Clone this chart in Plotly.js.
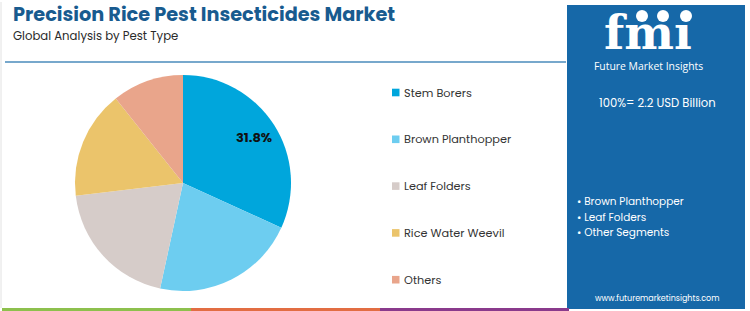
<!DOCTYPE html>
<html>
<head>
<meta charset="utf-8">
<script src="https://cdn.plot.ly/plotly-3.0.1.min.js"></script>
<style>html,body{margin:0;padding:0;background:#fff;}#chart{width:750px;height:311px;}</style>
</head>
<body>
<div id="chart"></div>
<script>
var categories = ["Stem Borers", "Brown Planthopper", "Leaf Folders", "Rice Water Weevil", "Others"];
var shares = [31.8, 21.6, 19.7, 16.2, 10.7];
var colors = ["#00A6DC", "#6DCDF0", "#D6CCC9", "#EBC46B", "#E9A58B"];
var shownLabels = ["31.8%", "", "", "", ""];
var titleText = "Precision Rice Pest Insecticides Market";
var subtitleText = "Global Analysis by Pest Type";
var totalText = "100%= 2.2 USD Billion";
var keySegments = ["Brown Planthopper", "Leaf Folders", "Other Segments"];
var brandText = "Future Market Insights";
var urlText = "www.futuremarketinsights.com";

var W = 750, H = 311;
function px(x){ return x / W; }
function py(y){ return 1 - y / H; }

var panel = "#1668A8";
var FONT = "Poppins, 'Open Sans', sans-serif";

// pie geometry (layout)
var PCX = 183, PCY = 183, PR = 108;

var pie = {
  type: "pie",
  labels: categories,
  values: shares,
  marker: {colors: colors, line: {width: 0}},
  sort: false,
  direction: "clockwise",
  rotation: 0,
  textinfo: "none",
  hoverinfo: "label+percent",
  domain: {x: [px(PCX - PR), px(PCX + PR)], y: [py(PCY + PR), py(PCY - PR)]},
  showlegend: false
};

var shapes = [];
var annotations = [];

// slice labels placed at the mid-angle of each slice
var total = shares.reduce(function(a, b){ return a + b; }, 0);
var cum = 0;
for (var j = 0; j < shares.length; j++) {
  var mid = (cum + shares[j] / 2) / total * 2 * Math.PI;
  cum += shares[j];
  if (!shownLabels[j]) continue;
  var lx = PCX + 0.78 * PR * Math.sin(mid);
  var ly2 = PCY - 0.78 * PR * Math.cos(mid);
  annotations.push({text: "<b>" + shownLabels[j] + "</b>", xref: "paper", yref: "paper", x: px(lx), y: py(ly2), xanchor: "center", yanchor: "middle", showarrow: false, font: {family: FONT, size: 13, color: "#111"}});
}

// header rule
shapes.push({type: "line", xref: "paper", yref: "paper", x0: px(5), x1: px(566), y0: py(62), y1: py(62), line: {color: "#4A8BBB", width: 1.5}});
// left faint border
shapes.push({type: "line", xref: "paper", yref: "paper", x0: px(1), x1: px(1), y0: py(2), y1: py(308), line: {color: "#E2E2E2", width: 1}});
// right panel
shapes.push({type: "rect", xref: "paper", yref: "paper", x0: px(567), x1: px(745), y0: py(309), y1: py(5), fillcolor: panel, line: {width: 0}, layer: "below"});
// bottom stripes
var stripeColors = ["#8DC04D", "#E26D43", "#8A3A8C"];
for (var s = 0; s < 3; s++) {
  shapes.push({type: "rect", xref: "paper", yref: "paper", x0: px(2 + s * 189), x1: px(2 + (s + 1) * 189), y0: 0, y1: py(308), fillcolor: stripeColors[s], line: {width: 0}});
}

// title
annotations.push({text: "<b>" + titleText + "</b>", xref: "paper", yref: "paper", x: px(11), y: py(15), xanchor: "left", yanchor: "middle", showarrow: false, font: {family: FONT, size: 19.3, color: "#185B8F"}});
annotations.push({text: subtitleText, xref: "paper", yref: "paper", x: px(11), y: py(36), xanchor: "left", yanchor: "middle", showarrow: false, font: {family: FONT, size: 11.7, color: "#2A2A2A"}});

// custom legend
for (var i = 0; i < categories.length; i++) {
  var cy = 92.5 + i * 46.8;
  shapes.push({type: "rect", xref: "paper", yref: "paper", x0: px(392), x1: px(399.5), y0: py(cy + 3.8), y1: py(cy - 3.8), fillcolor: colors[i], line: {width: 0}});
  annotations.push({text: categories[i], xref: "paper", yref: "paper", x: px(401.5), y: py(cy), xanchor: "left", yanchor: "middle", showarrow: false, font: {family: FONT, size: 11.3, color: "#333"}});
}

// logo
annotations.push({text: "<b>fmı</b>", xref: "paper", yref: "paper", x: px(648), y: py(32.5), xanchor: "center", yanchor: "middle", showarrow: false, font: {family: "'DejaVu Serif', serif", size: 47, color: "#FFFFFF"}});
for (var k = 0; k < 9; k++) {
  var ly = 21 + k * 4;
  shapes.push({type: "line", xref: "paper", yref: "paper", x0: px(590), x1: px(708), y0: py(ly), y1: py(ly), line: {color: panel, width: 1}});
}
var dots = [642, 663, 686];
for (var d = 0; d < dots.length; d++) {
  shapes.push({type: "circle", xref: "paper", yref: "paper", x0: px(dots[d] - 6), x1: px(dots[d] + 6), y0: py(22), y1: py(10), fillcolor: "#FFFFFF", line: {width: 0}});
}
annotations.push({text: brandText, xref: "paper", yref: "paper", x: px(648), y: py(66), xanchor: "center", yanchor: "middle", showarrow: false, font: {family: "'Open Sans', sans-serif", size: 10.4, color: "#FFFFFF"}});
annotations.push({text: totalText, xref: "paper", yref: "paper", x: px(657), y: py(103), xanchor: "center", yanchor: "middle", showarrow: false, font: {family: FONT, size: 11.6, color: "#FFFFFF"}});
for (var b = 0; b < keySegments.length; b++) {
  annotations.push({text: "• " + keySegments[b], xref: "paper", yref: "paper", x: px(575), y: py(202 + b * 15.3), xanchor: "left", yanchor: "middle", showarrow: false, font: {family: FONT, size: 10.5, color: "#FFFFFF"}});
}
annotations.push({text: urlText, xref: "paper", yref: "paper", x: px(657), y: py(298), xanchor: "center", yanchor: "middle", showarrow: false, font: {family: FONT, size: 8, color: "#FFFFFF"}});

var layout = {
  width: W, height: H,
  margin: {l: 0, r: 0, t: 0, b: 0, pad: 0},
  paper_bgcolor: "#FFFFFF",
  plot_bgcolor: "#FFFFFF",
  showlegend: false,
  shapes: shapes,
  annotations: annotations
};

Plotly.newPlot("chart", [pie], layout, {displayModeBar: false, staticPlot: true});
</script>
</body>
</html>
